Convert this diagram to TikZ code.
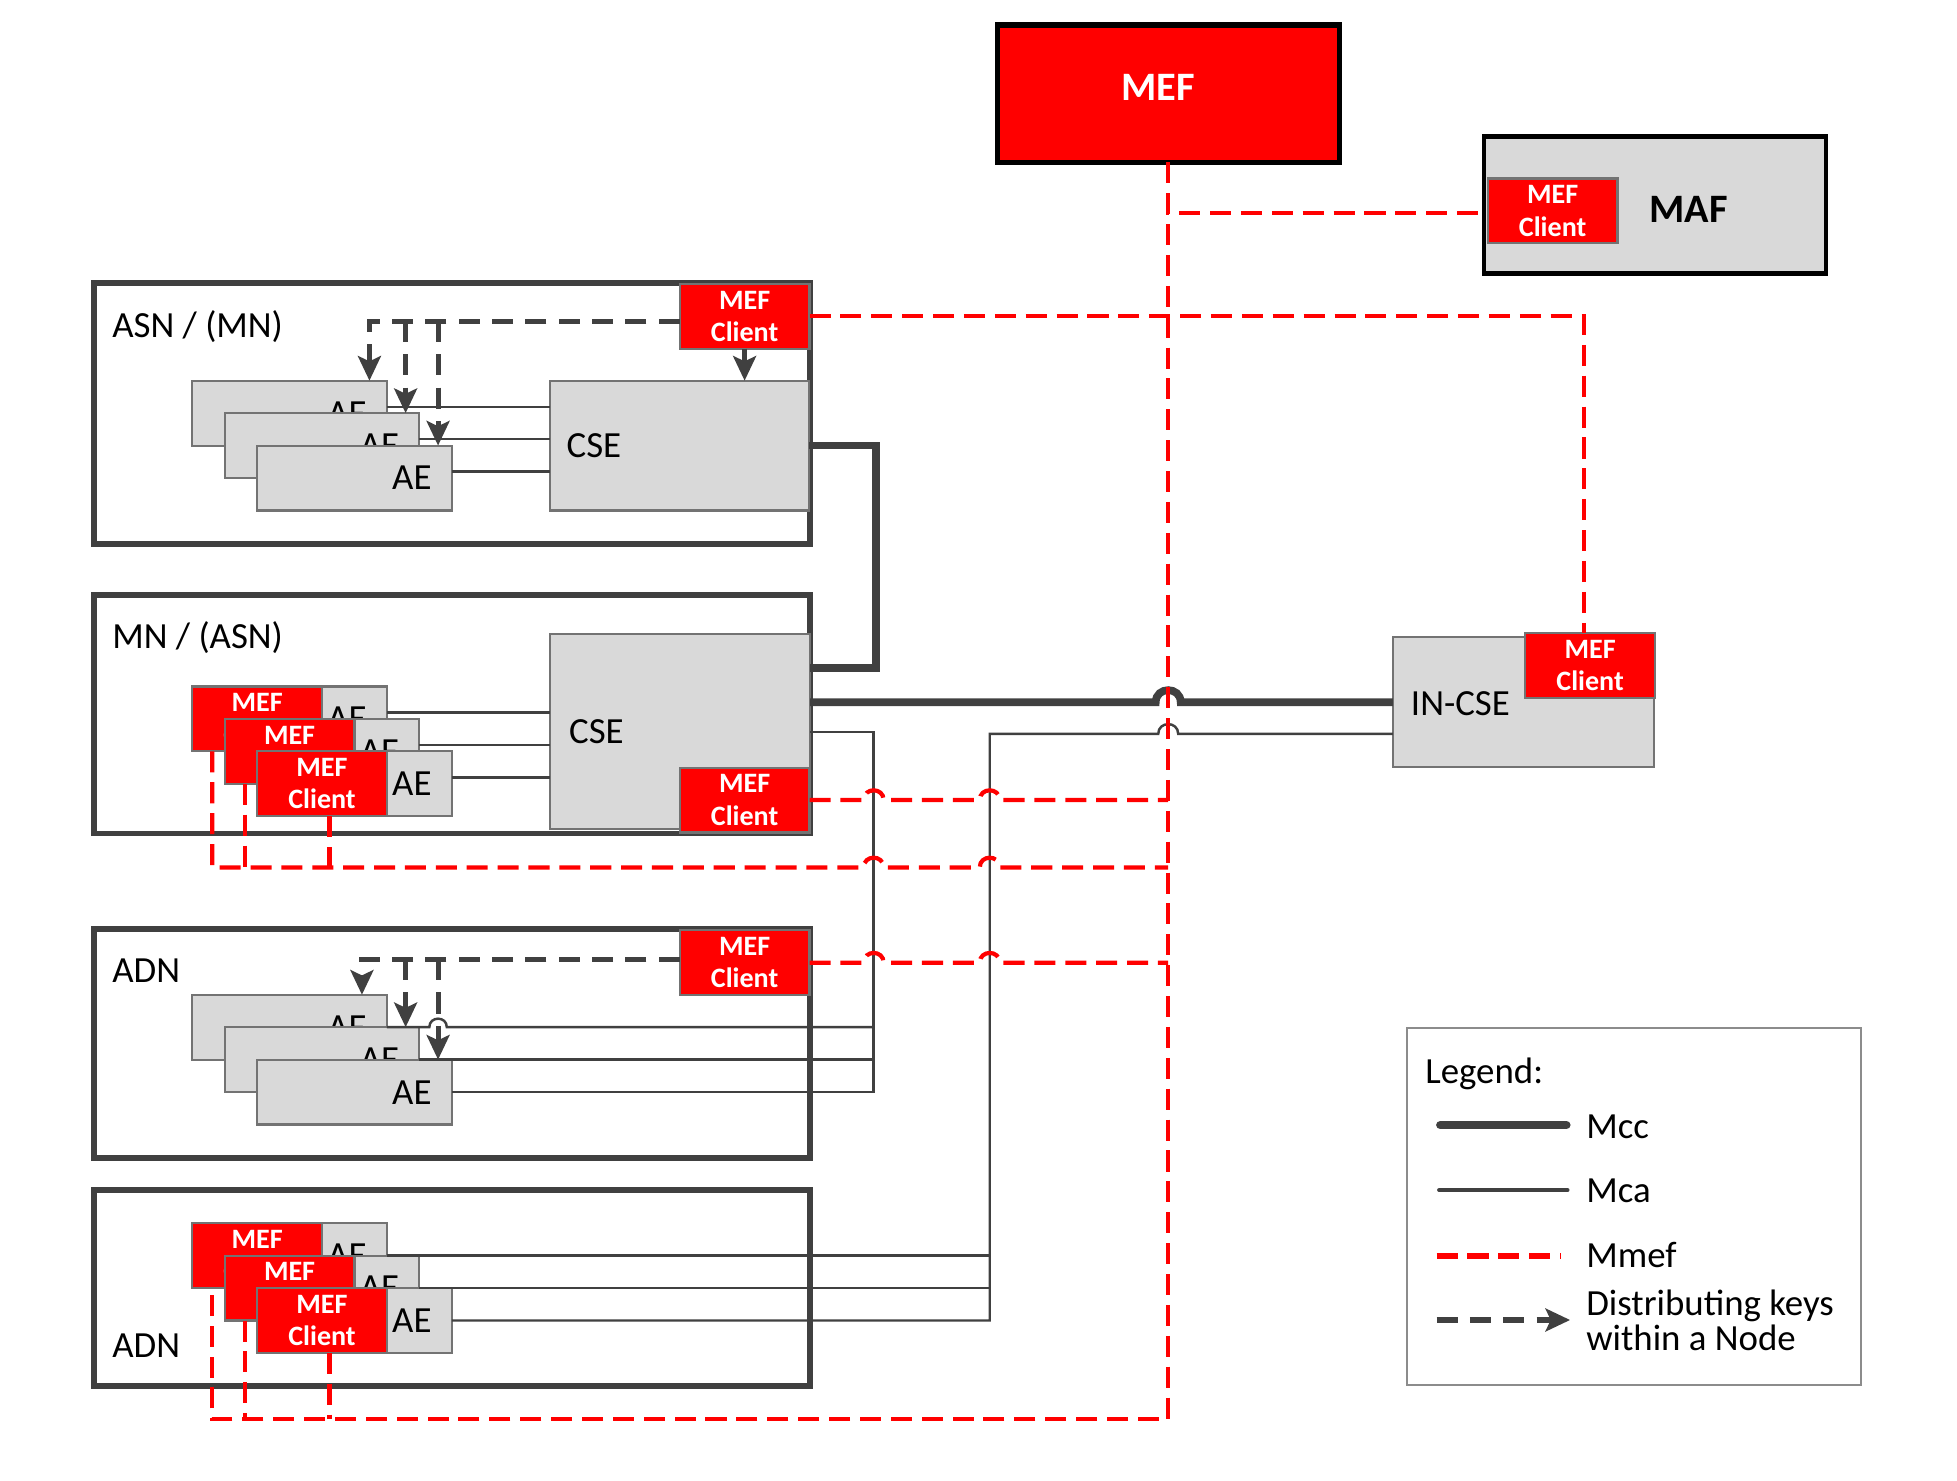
\documentclass[tikz,border=0pt]{standalone}
\usepackage{fontspec}
\setmainfont{Carlito}
\usetikzlibrary{positioning,arrows.meta,calc}
\definecolor{mefred}{HTML}{FF0000}
\definecolor{dgray}{HTML}{404040}
\definecolor{lgray}{HTML}{D9D9D9}
\newcommand\hopat[3]{-- (#1-#3,#2) .. controls (#1-#3,#2-1.3*#3) and (#1+#3,#2-1.3*#3) .. (#1+#3,#2)}

\begin{document}
\begin{tikzpicture}[x=0.125mm, y=-0.125mm, inner sep=0pt, outer sep=0pt,
  sz/.style 2 args={minimum width=#1*0.125mm, minimum height=#2*0.125mm},
  txt/.style={font=\fontsize{10.5}{12}\selectfont, text height=6.8pt, text depth=0pt},
  nodebox/.style={draw=dgray, line width=1.7pt, fill=white},
  entity/.style={draw=black!55, line width=0.6pt, fill=lgray},
  mefcl/.style={draw=black!55, line width=0.6pt, fill=mefred, text=white, align=center, sz={104}{52}, font=\fontsize{8}{9.2}\selectfont\bfseries},
  aebox/.style={entity, sz={156}{52}},
  mcc/.style={draw=dgray, line width=2.2pt},
  mca/.style={draw=dgray, line width=0.7pt},
  mmef/.style={draw=mefred, line width=1.2pt, dash pattern=on 6pt off 2.8pt},
  keys/.style={draw=dgray, line width=1.4pt, dash pattern=on 6pt off 3.5pt, -{Stealth[length=7pt,width=6.5pt,inset=1.5pt]}}
]
\useasboundingbox (0,0) rectangle (1568,1186);

% MEF and MAF
\node[draw=black, line width=1.5pt, fill=mefred, sz={274}{110}] (mef) at (936,75) {};
\node[font=\fontsize{11.5}{13}\selectfont\bfseries, text=white] (meflbl) at (928,70) {MEF};
\node[draw=black, line width=1.4pt, fill=lgray, sz={274}{110}] (maf) at (1326,164) {};
\node[mefcl] (maf-cl) at (1244,169) {MEF\\Client};
\node[font=\fontsize{11.5}{13}\selectfont\bfseries] (maflbl) at (1353,168) {MAF};

% nodes
\node[nodebox, sz={574}{209}] (asn) at (362,331.5) {};
\node[nodebox, sz={574}{191}] (mn) at (362,572.3) {};
\node[nodebox, sz={574}{184}] (adna) at (362,836) {};
\node[nodebox, sz={574}{157}] (adnb) at (362,1031.8) {};
\node[txt, anchor=west] (asnlbl) at (90,260.5) {ASN / (MN)};
\node[txt, anchor=west] (mnlbl) at (90,510) {MN / (ASN)};
\node[txt, anchor=west] (adnalbl) at (90,778) {ADN};
\node[txt, anchor=west] (adnblbl) at (90,1077.7) {ADN};

% CSEs
\node[entity, sz={208}{104}] (asn-cse) at (544.5,357) {};
\node[txt, anchor=west] (asncselbl) at (454,357) {CSE};
\node[entity, sz={208}{156}] (mn-cse) at (545,586.3) {};
\node[txt, anchor=west] (mncselbl) at (456,586) {CSE};
\node[entity, sz={209}{104}] (in-cse) at (1220.5,562.7) {};
\node[txt, anchor=west] (incselbl) at (1130.5,563.5) {IN-CSE};

\node[mefcl] (asn-cl) at (596.6,253.3) {MEF\\Client};
\node[mefcl] (mn-cl) at (596.6,641) {MEF\\Client};
\node[mefcl] (adna-cl) at (596.6,771.3) {MEF\\Client};
\node[mefcl] (in-cl) at (1274,533.3) {MEF\\Client};

% AE stacks
\foreach \s/\ty in {asn/305,adna/797}
  \foreach \i in {1,2,3} {
    \node[aebox] (\s-ae\i) at (206+26*\i,\ty+26*\i) {};
    \node[txt] (\s-ael\i) at (252+26*\i,\ty+26*\i) {AE};
  }
\foreach \s/\ty in {mn/550,adnb/980}
  \foreach \i in {1,2,3} {
    \node[aebox] (\s-ae\i) at (206+26*\i,\ty+26*\i) {};
    \node[txt] (\s-ael\i) at (252+26*\i,\ty+26*\i) {AE};
    \node[mefcl] (\s-cl\i) at (180+26*\i,\ty+26*\i) {MEF\\Client};
  }

% Mca
\foreach \s in {asn,mn} \foreach \i in {1,2,3}
  \draw[mca] ([yshift=1.8pt]\s-ae\i.east) -- ([yshift=1.8pt]\s-ae\i.east -| \s-cse.west);
\coordinate (mcaa) at (700,586);
\coordinate (mcab) at (793,588);
\draw[mca] (mn-cse.east) -| (adna-ae3.east -| mcaa) -- (adna-ae3.east);
\draw[mca] (adna-ae2.east) -- (adna-ae2.east -| mcaa);
\draw[mca] (adna-ae1.east) \hopat{351}{823}{7} -- (adna-ae1.east -| mcaa);
\draw[mca] (adnb-ae3.east) -| (mcab) \hopat{936}{588}{8} -- (in-cse.west |- mcab);
\foreach \i in {1,2} \draw[mca] (adnb-ae\i.east) -- (adnb-ae\i.east -| mcab);

% Mcc
\coordinate (mccloop) at (702,535);
\draw[mcc] (asn-cse.east) -| (mccloop) -- (mccloop -| mn-cse.east);
\draw[mcc] (mn-cse.east |- in-cse.west) \hopat{936}{562.7}{10} -- (in-cse.west);

% Mmef
\coordinate (mnbus) at (936,695);
\coordinate (adnbus) at (936,1137);
\foreach \s in {mn,adnb} \foreach \i/\dx in {1/16,2/16,3/58}
  \coordinate (\s-d\i) at ($(\s-cl\i.south west)+(\dx,0)$);
\draw[mmef] (mef.south) |- ([yshift=-0.6pt]maf-cl.west);
\draw[mmef] (mef.south) -- (adnbus) -| (adnb-d1);
\draw[mmef] (asn-cl.east) -| ([xshift=-1.8pt]in-cl.north);
\draw[mmef] (mn-cl.east) \hopat{700}{641}{8} \hopat{793}{641}{8} -- (mn-cl.east -| mnbus);
\draw[mmef] (adna-cl.east) \hopat{700}{771.3}{8} \hopat{793}{771.3}{8} -- (adna-cl.east -| mnbus);
\draw[mmef] (mn-d1) -- (mn-d1 |- mnbus) \hopat{700}{695}{8} \hopat{793}{695}{8} -- (mnbus);
\foreach \s/\bus in {mn/mnbus,adnb/adnbus} \foreach \i in {2,3}
  \draw[mmef] (\s-d\i) -- (\s-d\i |- \bus);

% keys
\coordinate (asn-k1) at ($(asn-ae1.north east)+(-14,0)$);
\coordinate (adna-k1) at ($(adna-ae1.north east)+(-20,0)$);
\foreach \s in {asn,adna} \foreach \i in {2,3}
  \coordinate (\s-k\i) at ($(\s-ae\i.north east)+(-11,0)$);
\foreach \s/\sh in {asn/-1.4pt,adna/1pt} {
  \draw[keys] ([yshift=\sh]\s-cl.west) -| (\s-k1);
  \draw[keys] ([yshift=\sh]\s-k2 |- \s-cl.west) -- (\s-k2);
  \draw[keys] ([yshift=\sh]\s-k3 |- \s-cl.west) -- (\s-k3);
}
\draw[keys] (asn-cl.south) -- (asn-cl.south |- asn-cse.north);

% legend
\node[draw=black!45, line width=0.6pt, sz={364}{286}] (legend) at (1309,967) {};
\node[txt, anchor=west] (lgtitle) at (1142,858.7) {Legend:};
\coordinate (lg1a) at (1154,901.4); \coordinate (lg1b) at (1255,901.4);
\coordinate (lg2a) at (1153,953.5); \coordinate (lg2b) at (1256,953.5);
\coordinate (lg3a) at (1151,1006.4); \coordinate (lg3b) at (1250,1006.4);
\coordinate (lg4a) at (1151,1057.6); \coordinate (lg4b) at (1258,1057.6);
\draw[mcc, line width=2.4pt, line cap=round] (lg1a) -- (lg1b);
\draw[mca, line width=1.1pt, line cap=round] (lg2a) -- (lg2b);
\draw[mmef, line width=1.8pt] (lg3a) -- (lg3b);
\draw[keys, line width=1.6pt] (lg4a) -- (lg4b);
\node[txt, anchor=west] (lgmcc) at (1271,902.8) {Mcc};
\node[txt, anchor=west] (lgmca) at (1271,953.6) {Mca};
\node[txt, anchor=west] (lgmmef) at (1271,1006) {Mmef};
\node[font=\fontsize{10.5}{10}\selectfont, align=left, anchor=west] (lgkeys) at (1271,1058) {Distributing keys\\within a Node};
\end{tikzpicture}
\end{document}
